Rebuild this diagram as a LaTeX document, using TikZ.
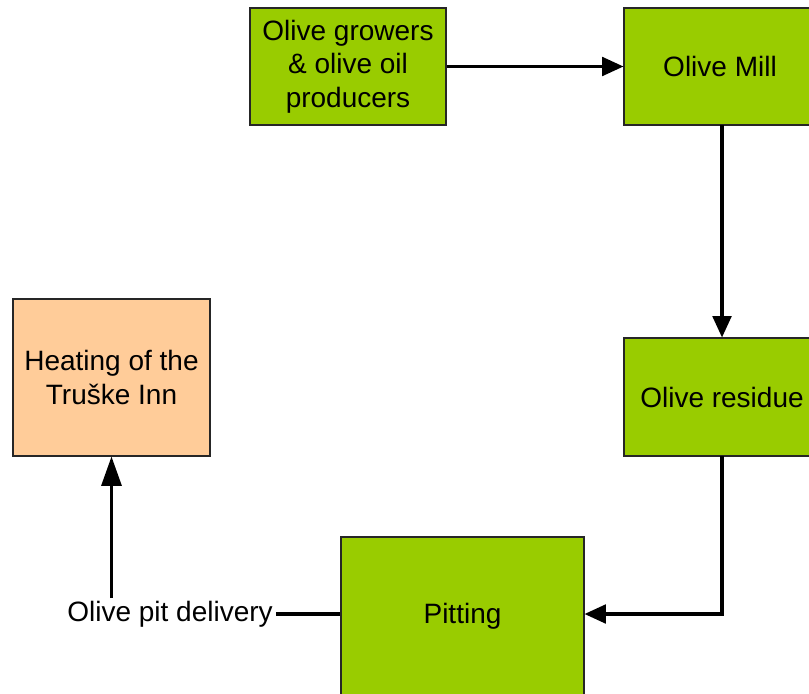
\documentclass[tikz,border=0pt]{standalone}
\usepackage{fontspec}
\setmainfont{Liberation Sans}
\usetikzlibrary{arrows.meta}
\definecolor{boxgreen}{HTML}{99CC00}
\definecolor{boxorange}{HTML}{FFCC99}
\begin{document}
\begin{tikzpicture}[x=0.75pt,y=-0.75pt,
  box/.style={draw=black!85,line width=0.8pt,fill=boxgreen,minimum width=#1,inner sep=0pt,align=center,
    font=\fontsize{21}{25}\selectfont},
  conn/.style={line width=2.3pt,-{Triangle[length=16pt,width=14pt]}},
  lbl/.style={font=\fontsize{21}{25}\selectfont,inner sep=2pt}]
\useasboundingbox (0,0) rectangle (809,693);
\clip (0,0) rectangle (809,693);
\node[box=196*0.75pt,minimum height=117*0.75pt] (grow) at (348,66.5) {Olive growers\\ \& olive oil\\ producers};
\node[box=192*0.75pt,minimum height=117*0.75pt] (mill) at (720,66.5) {Olive Mill};
\node[box=196*0.75pt,minimum height=118*0.75pt] (res) at (722,397) {Olive residue};
\node[box=243*0.75pt,minimum height=158*0.75pt] (pit) at (462.5,616) {Pitting};
\node[box=197*0.75pt,minimum height=157*0.75pt,fill=boxorange] (heat) at (111.5,377.5) {Heating of the\\ Truške Inn};
\node[lbl] (del) at (170,614) {Olive pit delivery};
\coordinate (mb) at (722,125);
\coordinate (rb) at (722,456);
\draw[conn] (grow.east) -- (grow.east -| mill.west);
\draw[conn] (mb) -- (res.north);
\draw[conn] (rb) |- (pit.east |- del);
\draw[line width=2.3pt] (pit.west |- del) -- (del.east);
\draw[conn,-{Triangle[length=22pt,width=15pt]}] (heat.south |- del.north) -- (heat.south);
\end{tikzpicture}
\end{document}
